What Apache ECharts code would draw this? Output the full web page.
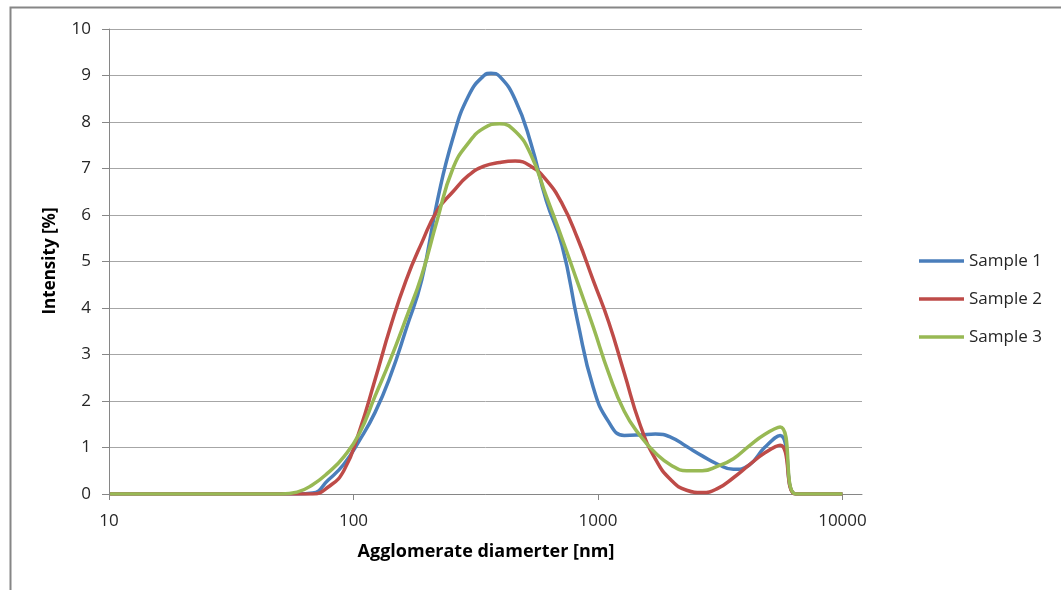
<!DOCTYPE html>
<html>
<head>
<meta charset="utf-8">
<script src="https://cdn.jsdelivr.net/npm/echarts@6/dist/echarts.min.js"></script>
<style>
html,body{margin:0;padding:0;background:#fff;}
#chart{width:1061px;height:590px;}
</style>
</head>
<body>
<div id="chart"></div>
<script>
var sizes = [10.1, 11.7, 13.54, 15.69, 18.17, 21.04, 24.36, 28.21, 32.67, 37.84, 43.82, 50.75, 58.77, 68.06, 78.82, 91.28, 105.7, 122.4, 141.8, 164.2, 190.1, 220.2, 255.0, 295.3, 342.0, 396.1, 458.7, 531.2, 615.1, 712.4, 825.0, 955.4, 1106, 1281, 1484, 1718, 1990, 2305, 2669, 3091, 3580, 4145, 4801, 5560, 6439, 7456, 8635, 10000];
var sample1 = [0,0,0,0,0,0,0,0,0,0,0,0,0,0.02,0.3,0.64,1.15,1.75,2.55,3.55,4.6,6.3,7.65,8.56,9.0,8.98,8.48,7.55,6.3,5.35,3.72,2.3,1.55,1.26,1.27,1.29,1.22,1.02,0.82,0.64,0.53,0.62,1.0,1.26,0,0,0,0];
var sample2 = [0,0,0,0,0,0,0,0,0,0,0,0,0,0,0.15,0.5,1.35,2.45,3.6,4.6,5.4,6.1,6.5,6.85,7.05,7.13,7.16,7.05,6.75,6.25,5.5,4.6,3.7,2.6,1.5,0.75,0.3,0.08,0.03,0.12,0.35,0.62,0.88,1.05,0,0,0,0];
var sample3 = [0,0,0,0,0,0,0,0,0,0,0,0,0.04,0.2,0.46,0.8,1.3,2.1,2.9,3.78,4.7,5.9,7.0,7.55,7.87,7.96,7.8,7.3,6.4,5.5,4.55,3.6,2.6,1.78,1.26,0.88,0.62,0.5,0.5,0.6,0.76,1.03,1.28,1.44,0,0,0,0];
// extra reading at the top of the Sample 1 peak (size nm, intensity %)
var sample1PeakSize = 365;
var sample1PeakValue = 9.05;
var seriesNames = ['Sample 1', 'Sample 2', 'Sample 3'];
var seriesColors = ['#4A7EBB', '#BE4B48', '#98B954'];
var xTickValues = [10, 100, 1000, 10000];
var xTitle = 'Agglomerate diamerter [nm]';
var yTitle = 'Intensity [%]';

function pairs(ys) { return sizes.map(function (s, i) { return [s, ys[i]]; }); }
var s1 = pairs(sample1).concat([[sample1PeakSize, sample1PeakValue]]).sort(function (a, b) { return a[0] - b[0]; });
var allData = [s1, pairs(sample2), pairs(sample3)];

var font = '"Open Sans", Lato, sans-serif';
var chart = echarts.init(document.getElementById('chart'), null, {renderer: 'canvas'});
chart.setOption({
  animation: false,
  backgroundColor: '#ffffff',
  grid: {left: 109, top: 29, right: 199, bottom: 96, containLabel: false},
  xAxis: {
    type: 'log', logBase: 10, min: 10, max: 12020,
    axisLine: {show: true, lineStyle: {color: '#868686', width: 1}},
    axisTick: {show: true, length: 6, inside: false, customValues: xTickValues, lineStyle: {color: '#868686'}},
    axisLabel: {show: true, customValues: xTickValues, margin: 19, fontFamily: font, fontSize: 17, color: '#262626',
      formatter: function (v) { return String(Math.round(v)); }},
    splitLine: {show: false},
    minorTick: {show: false}, minorSplitLine: {show: false}
  },
  yAxis: {
    type: 'value', min: 0, max: 10, interval: 1,
    axisLine: {show: true, lineStyle: {color: '#868686', width: 1}},
    axisTick: {show: true, length: 7, inside: false, lineStyle: {color: '#868686'}},
    axisLabel: {margin: 18, fontFamily: font, fontSize: 17, color: '#262626'},
    splitLine: {show: true, lineStyle: {color: '#a6a6a6', width: 1}}
  },
  legend: {
    orient: 'vertical', left: 914, top: 246,
    icon: 'rect', itemWidth: 45, itemHeight: 3.5, itemGap: 18,
    textStyle: {fontFamily: font, fontSize: 17, color: '#262626', lineHeight: 20},
    data: seriesNames
  },
  graphic: [
    {type: 'rect', left: 8, top: 5, z: 100, silent: true,
      shape: {width: 1200, height: 800}, style: {fill: 'none', stroke: '#868686', lineWidth: 2}},
    {type: 'text', x: 486, y: 552, style: {text: xTitle, fontFamily: font, fontWeight: 'bold', fontSize: 18, fill: '#000', align: 'center', verticalAlign: 'middle'}},
    {type: 'text', x: 50, y: 261, rotation: Math.PI / 2, style: {text: yTitle, fontFamily: font, fontWeight: 'bold', fontSize: 17, fill: '#000', align: 'center', verticalAlign: 'middle'}}
  ],
  series: allData.map(function (d, i) {
    return {
      name: seriesNames[i], type: 'line', data: d, smooth: 0.5,
      symbol: 'none', clip: true,
      lineStyle: {color: seriesColors[i], width: 3.5},
      itemStyle: {color: seriesColors[i]}
    };
  })
});
</script>
</body>
</html>
